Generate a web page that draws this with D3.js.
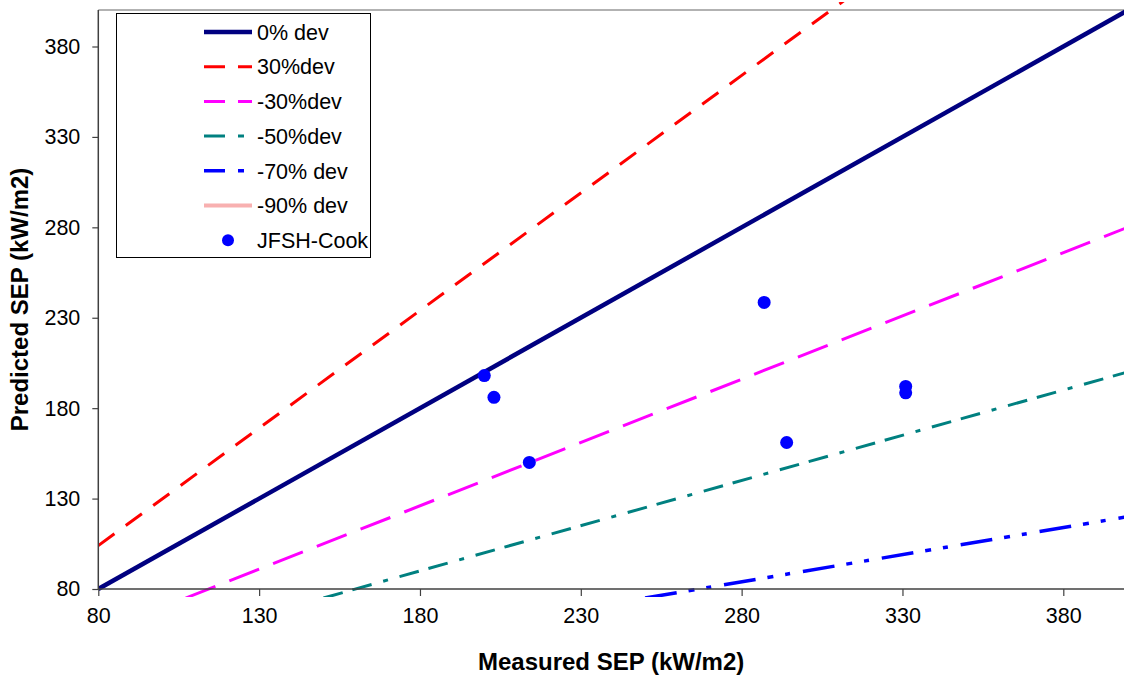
<!DOCTYPE html>
<html>
<head>
<meta charset="utf-8">
<script src="https://cdn.jsdelivr.net/npm/d3@7"></script>
<style>
  html, body { margin: 0; padding: 0; background: #fff; }
  svg { display: block; font-family: "Liberation Sans", Arial, sans-serif; }
</style>
</head>
<body>
<svg width="1124" height="675"></svg>
<script>
// Data.
const devLabels = ['0% dev', '30%dev', '-30%dev', '-50%dev', '-70% dev', '-90% dev'];
const devFactors = [1, 1.3, 0.7, 0.5, 0.3, 0.1];
const lineX = [70, 400];
const pointLabel = 'JFSH-Cook';
const measured = [200, 203, 214, 287, 294, 331, 331];
const predicted = [198, 186, 150, 238.5, 161, 192, 188.5];
const xTicks = [80, 130, 180, 230, 280, 330, 380];
const yTicks = [80, 130, 180, 230, 280, 330, 380];
const xTitle = 'Measured SEP (kW/m2)';
const yTitle = 'Predicted SEP (kW/m2)';

// Styles.
const devColors = ['#000080', '#ff0000', '#ff00ff', '#008080', '#0000ff', '#f8b0b0'];
const devWidths = [4.5, 3, 3, 3, 3.5, 4];
const devDash = [null, '20 14', '32 15', '20 10 20 12 5 12', '32 12 6 12 5 13', null];
const legendDash = [null, '21 13', '21 13', '21 13 6 13', '21 13 6 13', null];

function draw() {
  const svg = d3.select('svg');
  const pLeft = 98.3, pRight = 1124, pTop = 10, pBottom = 589;

  const x = d3.scaleLinear().domain([80, 400]).range([pLeft, pLeft + 320 * (1063.3 - pLeft) / 300]);
  const y = d3.scaleLinear().domain([80, 400]).range([pBottom, pBottom - 320 * (pBottom - 46.5) / 300]);

  // Lines run a little past the plot area at top and bottom, as in the original.
  svg.append('clipPath').attr('id', 'plot')
    .append('rect')
    .attr('x', pLeft).attr('y', pTop - 8)
    .attr('width', pRight - pLeft).attr('height', pBottom - pTop + 16);

  // Top border of the plot area.
  svg.append('line')
    .attr('x1', pLeft).attr('x2', pRight)
    .attr('y1', pTop).attr('y2', pTop)
    .attr('stroke', '#999').attr('stroke-width', 1.5);

  // Deviation lines.
  const lineGen = d3.line().x(d => x(d[0])).y(d => y(d[1]));
  const g = svg.append('g').attr('clip-path', 'url(#plot)');
  devFactors.forEach((f, i) => {
    const x0 = Math.max(80, 75 / f);
    g.append('path')
      .attr('d', lineGen([[x0, x0 * f], [lineX[1], lineX[1] * f]]))
      .attr('fill', 'none')
      .attr('stroke', devColors[i])
      .attr('stroke-width', devWidths[i])
      .attr('stroke-dasharray', devDash[i]);
  });

  // Points.
  g.selectAll('circle.pt')
    .data(measured)
    .join('circle')
    .attr('class', 'pt')
    .attr('cx', d => x(d))
    .attr('cy', (d, i) => y(predicted[i]))
    .attr('r', 6.5)
    .attr('fill', '#0000ff');

  // Axes.
  const xAxis = svg.append('g')
    .attr('transform', `translate(0,${pBottom})`)
    .call(d3.axisBottom(x).tickValues(xTicks).tickSize(7).tickPadding(12).tickSizeOuter(0));
  xAxis.select('.domain').attr('d', `M${pLeft},0H${pRight}`);

  const yAxis = svg.append('g')
    .attr('transform', `translate(${pLeft},0)`)
    .call(d3.axisLeft(y).tickValues(yTicks).tickSize(6).tickPadding(12).tickSizeOuter(0));
  yAxis.select('.domain').attr('d', `M0,${pTop}V${pBottom}`);

  svg.selectAll('.domain').attr('stroke', '#404040').attr('stroke-width', 1.5);
  svg.selectAll('.tick line').attr('stroke', '#404040').attr('stroke-width', 1.2);
  svg.selectAll('.tick text')
    .attr('font-size', 21.5)
    .attr('font-family', '"Liberation Sans", Arial, sans-serif')
    .attr('fill', '#000');

  // Axis titles.
  svg.append('text')
    .attr('x', (pLeft + pRight) / 2).attr('y', 670)
    .attr('text-anchor', 'middle')
    .attr('font-size', 24).attr('font-weight', 'bold')
    .text(xTitle);

  svg.append('text')
    .attr('transform', `translate(28,${(pTop + pBottom) / 2}) rotate(-90)`)
    .attr('text-anchor', 'middle')
    .attr('font-size', 24).attr('font-weight', 'bold')
    .text(yTitle);

  // Legend.
  const lg = svg.append('g');
  lg.append('rect')
    .attr('x', 116.5).attr('y', 13.5)
    .attr('width', 254).attr('height', 244)
    .attr('fill', '#fff').attr('stroke', '#000').attr('stroke-width', 1);

  const rowY = i => 32 + i * 34.7;
  devLabels.forEach((label, i) => {
    lg.append('line')
      .attr('x1', 204).attr('x2', 252)
      .attr('y1', rowY(i)).attr('y2', rowY(i))
      .attr('stroke', devColors[i])
      .attr('stroke-width', devWidths[i])
      .attr('stroke-dasharray', legendDash[i]);
    lg.append('text')
      .attr('x', 257).attr('y', rowY(i))
      .attr('dy', '0.36em')
      .attr('font-size', 21.5)
      .text(label);
  });
  lg.append('circle')
    .attr('cx', 228).attr('cy', rowY(6))
    .attr('r', 6).attr('fill', '#0000ff');
  lg.append('text')
    .attr('x', 257).attr('y', rowY(6))
    .attr('dy', '0.36em')
    .attr('font-size', 21.5)
    .text(pointLabel);
}

draw();
</script>
</body>
</html>
